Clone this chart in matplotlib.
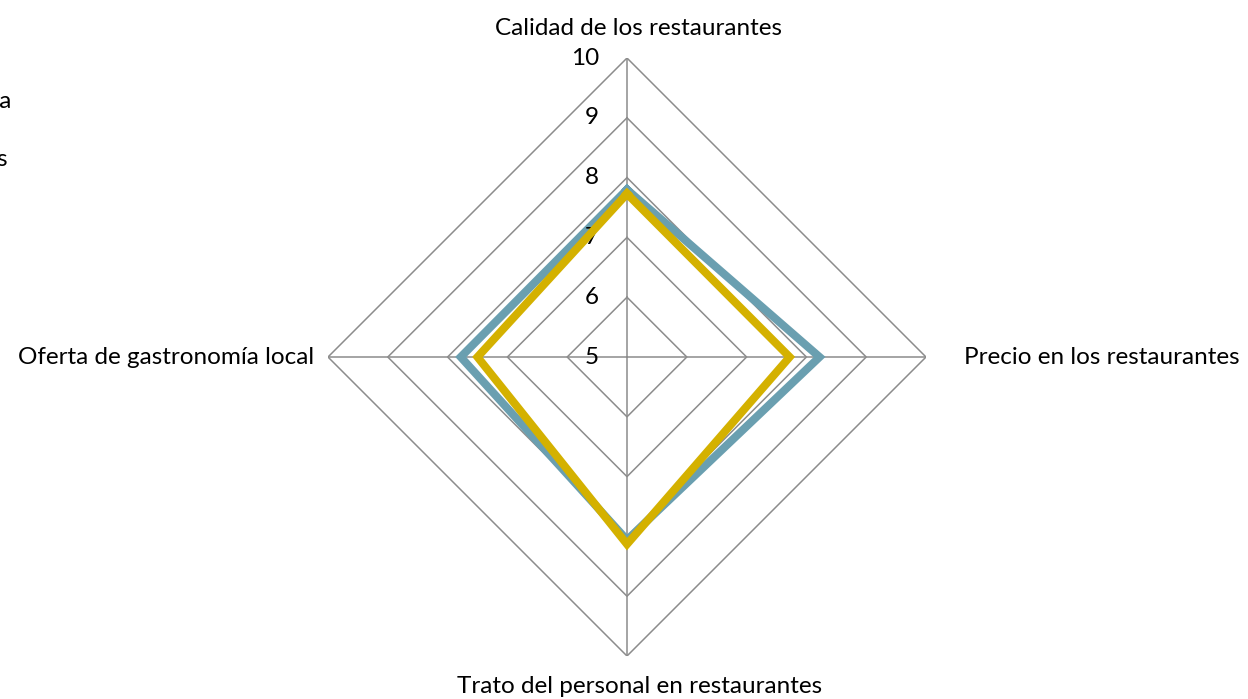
import numpy as np
import matplotlib
matplotlib.use('Agg')
import matplotlib.pyplot as plt

plt.rcParams['font.family'] = ['Lato', 'DejaVu Sans']

categories = ['Calidad de los restaurantes', 'Precio en los restaurantes',
              'Trato del personal en restaurantes', 'Oferta de gastronomía local']
serie_a = [7.80, 8.22, 8.06, 7.78]
serie_b = [7.73, 7.72, 8.13, 7.50]
series_names = ['Valoración en Andalucía', 'Valoración en otros destinos']
levels = [5, 6, 7, 8, 9, 10]

fig = plt.figure(figsize=(12.48, 6.99), dpi=100)
ax = fig.add_axes([0.2628, 0.0615, 0.4792, 0.8555], projection='polar')
ax.set_theta_offset(np.pi / 2)
ax.set_theta_direction(-1)
ax.set_ylim(5, 10)
ax.grid(False)
ax.set_xticks([])
ax.set_yticks([])
ax.spines['polar'].set_visible(False)

n = len(categories)
angles = np.arange(n) * 2 * np.pi / n
closed = np.append(angles, angles[0])

grid_col = '#8c8c8c'
for lv in levels[1:]:
    ax.plot(closed, [lv] * (n + 1), color=grid_col, lw=1.1, zorder=1)
for a in angles:
    ax.plot([a, a], [5, 10], color=grid_col, lw=1.1, zorder=1)

ax.plot(closed, serie_a + serie_a[:1], color='#6a9fb0', lw=5.8, zorder=3,
        solid_joinstyle='miter', label=series_names[0])
ax.plot(closed, serie_b + serie_b[:1], color='#d4b100', lw=5.8, zorder=4,
        solid_joinstyle='miter', label=series_names[1])

fs = 17.5
for lv in levels:
    ax.annotate(str(lv), xy=(0, lv), xytext=(-28, 0), textcoords='offset pixels',
                ha='right', va='center', fontsize=fs, color='#000000')

offsets = [(12, 30, 'center', 'center'), (38, 0, 'left', 'center'),
           (13, -30, 'center', 'center'), (-14, 0, 'right', 'center')]
for a, lab, (dx, dy, ha, va) in zip(angles, categories, offsets):
    ax.annotate(lab, xy=(a, 10), xytext=(dx, dy), textcoords='offset pixels',
                ha=ha, va=va, fontsize=fs, color='#000000', annotation_clip=False)

# legend partly outside the canvas, as in the source image
fig.text(11 / 1248, 1 - 101 / 699, series_names[0], ha='right', va='center', fontsize=fs)
fig.text(8 / 1248, 1 - 160 / 699, series_names[1], ha='right', va='center', fontsize=fs)

fig.savefig('out.png', dpi=100)
